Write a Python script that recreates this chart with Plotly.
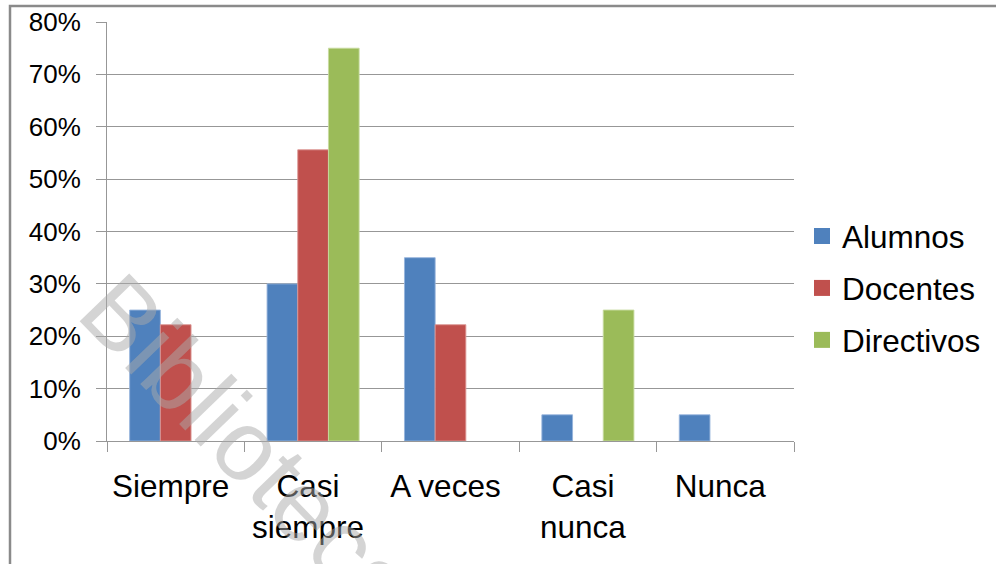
import plotly.graph_objects as go

# Survey response frequency by group (percent of respondents)
categories = ["Siempre", "Casi siempre", "A veces", "Casi nunca", "Nunca"]
category_labels = ["Siempre", "Casi<br>siempre", "A veces", "Casi<br>nunca", "Nunca"]
alumnos = [25, 30, 35, 5, 5]
docentes = [22.2, 55.6, 22.2, 0, 0]
directivos = [0, 75, 0, 25, 0]
y_ticks = [0, 10, 20, 30, 40, 50, 60, 70, 80]
y_tick_labels = ["0%", "10%", "20%", "30%", "40%", "50%", "60%", "70%", "80%"]

series = [
    ("Alumnos", alumnos, "#4F81BD", "rgba(150,180,220,0.9)"),
    ("Docentes", docentes, "#C0504D", "rgba(220,150,148,0.9)"),
    ("Directivos", directivos, "#9BBB59", "rgba(200,220,160,0.9)"),
]

FONT = "Liberation Sans, Arial, sans-serif"
GRID = "#979797"

# Plot-area geometry in pixels (used to place paper-referenced items)
W, H = 996, 564
L, R, T, B = 107, 202, 22, 123
PW, PH = W - L - R, H - T - B


def px_x(px):
    return (px - L) / PW


def px_y(py):
    return (H - B - py) / PH


fig = go.Figure()

for name, vals, color, edge in series:
    fig.add_trace(go.Bar(
        x=categories, y=vals, name=name,
        marker=dict(color=color,
                    line=dict(color=edge, width=[1 if v > 0 else 0 for v in vals])),
        showlegend=False,
    ))

# Legend entries with larger square swatches
for i, (name, vals, color, edge) in enumerate(series):
    fig.add_trace(go.Scatter(
        x=[None], y=[None], mode="markers", name=name,
        marker=dict(symbol="square", size=16, color=color),
        legendgroup=f"g{i}", showlegend=True,
    ))

fig.update_layout(
    width=W, height=H,
    margin=dict(l=L, r=R, t=T, b=B, pad=0, autoexpand=False),
    paper_bgcolor="white", plot_bgcolor="white",
    barmode="group", bargap=0.33, bargroupgap=0,
    font=dict(family=FONT, color="#000000"),
    legend=dict(
        x=px_x(802), xanchor="left", y=px_y(288), yanchor="middle",
        font=dict(size=31.5, family=FONT, color="#000000"),
        tracegroupgap=8, bgcolor="rgba(0,0,0,0)",
    ),
    xaxis=dict(
        type="category", range=[-0.5, 4.5], automargin=False,
        tickmode="array", tickvals=categories, ticktext=category_labels,
        tickfont=dict(size=31.5, family=FONT, color="#000000"),
        showline=True, linecolor=GRID, linewidth=1,
        ticks="outside", ticklen=10, tickcolor=GRID, tickwidth=1,
        tickson="boundaries", showgrid=False,
        ticklabelstandoff=17, ticklabelshift=-5,
    ),
    yaxis=dict(
        range=[0, 80], automargin=False,
        tickmode="array", tickvals=y_ticks, ticktext=y_tick_labels,
        tickfont=dict(size=26, family=FONT, color="#000000"),
        showline=True, linecolor=GRID, linewidth=1,
        ticks="outside", ticklen=10, tickcolor=GRID, tickwidth=1,
        showgrid=True, gridcolor=GRID, gridwidth=1, zeroline=False,
        ticklabelstandoff=10,
    ),
    shapes=[
        # Outer chart frame (extends past the right and bottom page edges)
        dict(type="rect", xref="paper", yref="paper",
             x0=px_x(10), x1=px_x(1100), y0=px_y(700), y1=px_y(6),
             line=dict(color="#8a8a8a", width=2.5), fillcolor="rgba(0,0,0,0)",
             layer="above"),
    ],
    annotations=[
        # Diagonal watermark
        dict(text="Biblioteca", xref="paper", yref="paper",
             x=px_x(250), y=px_y(447), xanchor="center", yanchor="middle",
             textangle=46, showarrow=False,
             font=dict(size=100, family=FONT, color="rgba(170,170,170,0.5)")),
    ],
)

fig.write_html("out.html")
